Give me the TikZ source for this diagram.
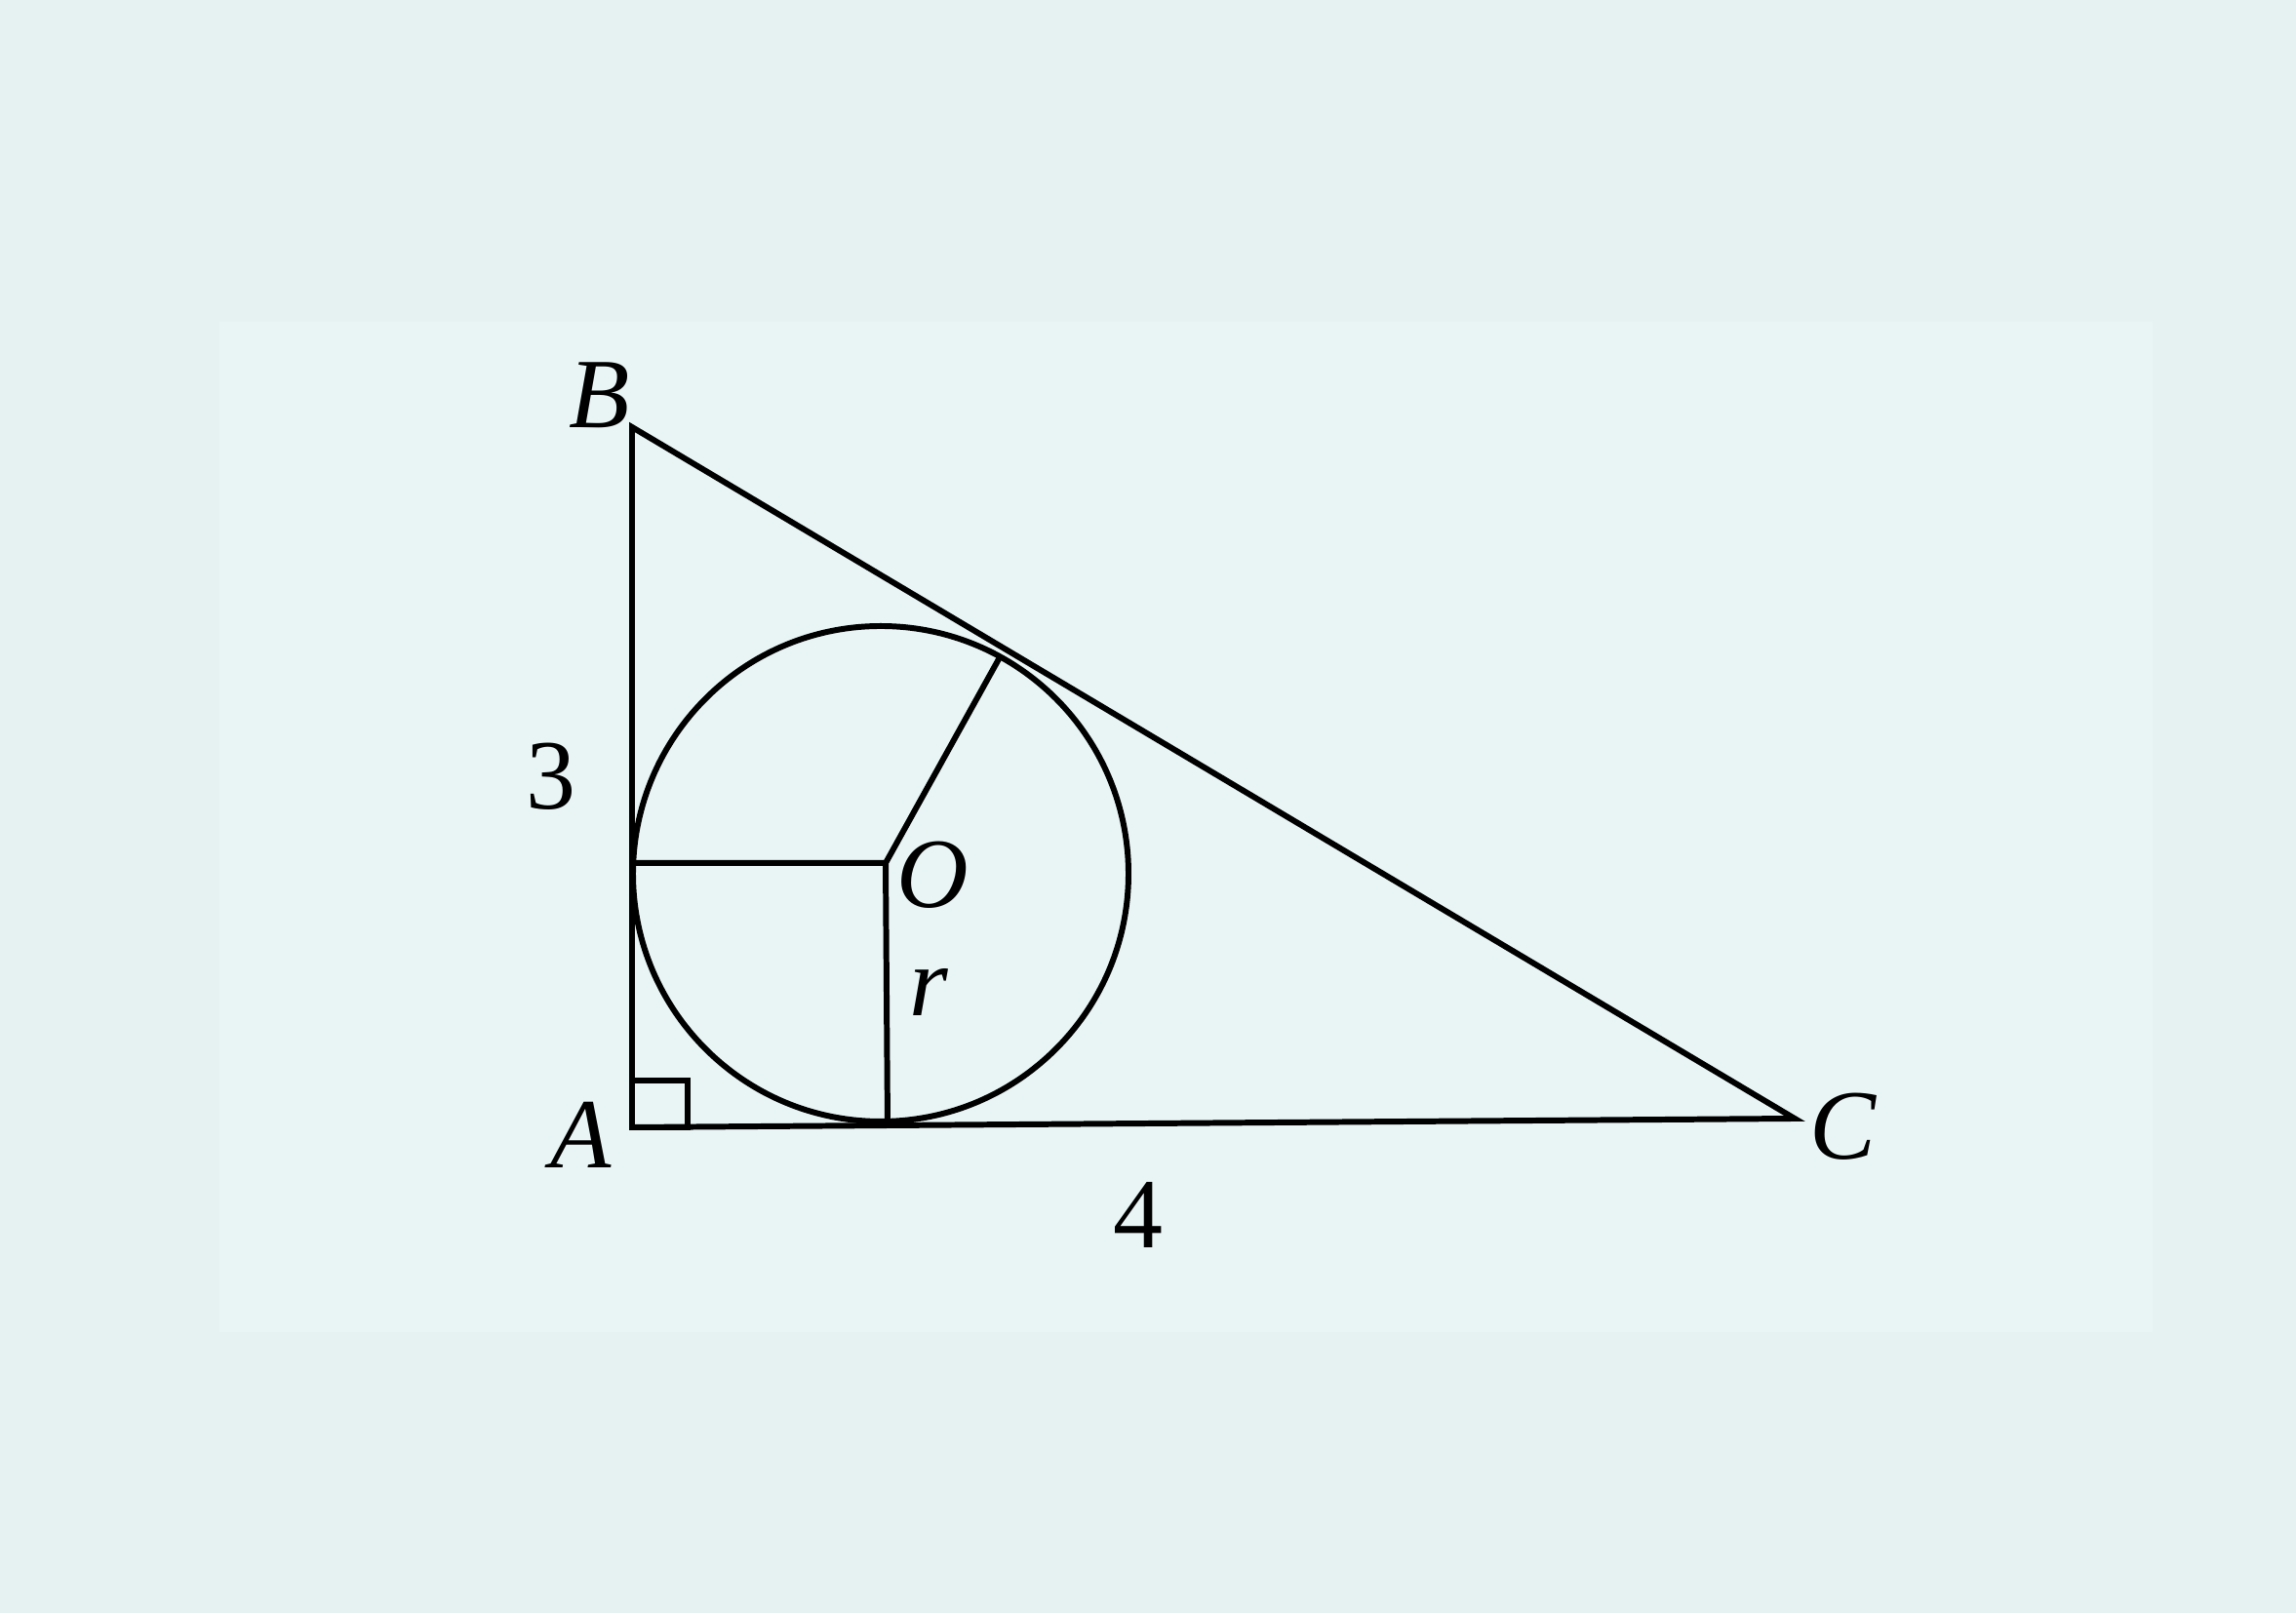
\documentclass[tikz,border=0pt]{standalone}
\usepackage{fontspec}
\setmainfont{Liberation Serif}
\usetikzlibrary{calc,positioning}
\definecolor{paperbg}{HTML}{E6F2F2}
\definecolor{scanbg}{HTML}{E9F4F4}

\begin{document}
\begin{tikzpicture}[
  edge/.style={line width=1.7pt, line join=miter},
  lbl/.style={inner sep=0pt, font=\fontsize{29}{34}\selectfont},
]
  \useasboundingbox (0,0) rectangle (23.54,16.54);
  \fill[paperbg] (0,0) rectangle (23.54,16.54);
  \fill[scanbg] (2.25,2.88) rectangle (22.07,13.24);

  % triangle and incircle
  \coordinate (A) at (6.48,4.98);
  \coordinate (B) at (6.48,12.16);
  \coordinate (C) at (18.40,5.07);
  \coordinate (M) at (9.03,7.58);
  \coordinate (O) at (9.08,7.69);
  \coordinate (T) at (10.25,9.80);
  \coordinate (P) at ($(A)!(O)!(B)$);
  \coordinate (Q) at ($(A)!(O)!(C)$);

  \draw[edge] (A) -- (B) -- (C) -- cycle;
  \draw[edge] (M) circle[radius=2.54];
  \draw[edge] (P) -- (O) -- (Q);
  \draw[edge] (O) -- (T);
  \draw[line width=1.5pt] (A) rectangle ($(A)+(0.57,0.48)$);

  \node[lbl] (labB) at ($(B)+(-0.33,0.33)$) {\textit{B}};
  \node[lbl] (labA) at ($(A)+(-0.52,-0.08)$) {\textit{A}};
  \node[lbl] (labC) at ($(C)+(0.50,-0.08)$) {\textit{C}};
  \node[lbl] (labO) at ($(O)+(0.48,-0.12)$) {\textit{O}};
  \node[lbl] (labr) at ($(O)+(0.44,-1.33)$) {\textit{r}};
  \node[lbl] (lab3) at (5.65,8.58) {3};
  \node[lbl] (lab4) at (11.67,4.08) {4};
\end{tikzpicture}
\end{document}
